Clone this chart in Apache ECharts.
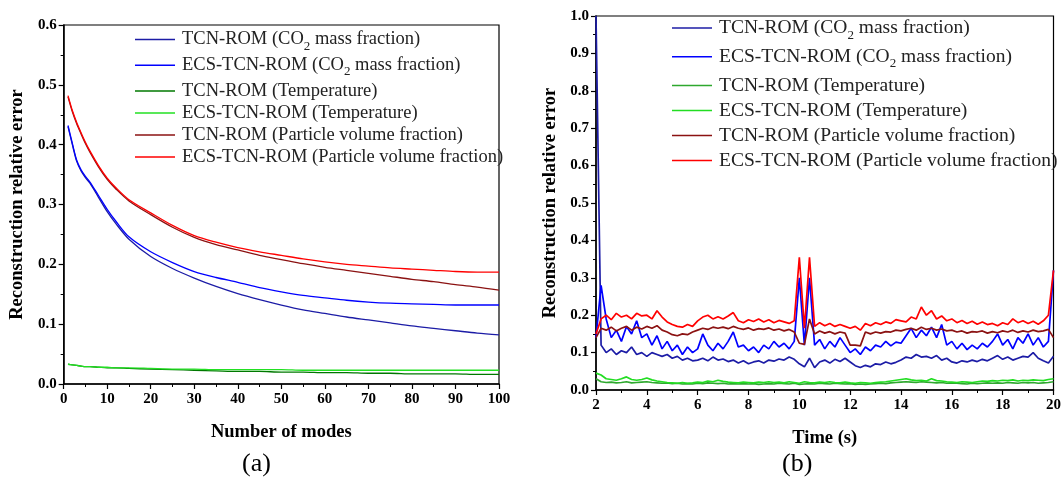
<!DOCTYPE html>
<html>
<head>
<meta charset="utf-8">
<script src="https://cdn.jsdelivr.net/npm/echarts@6.0.0/dist/echarts.min.js"></script>
<style>
  html, body { margin: 0; padding: 0; background: #fff; }
  #wrap { position: relative; width: 1064px; height: 492px; overflow: hidden; }
  #chartA { position: absolute; left: 0; top: 0; width: 532px; height: 492px; }
  #chartB { position: absolute; left: 532px; top: 0; width: 532px; height: 492px; }
</style>
</head>
<body>
<div id="wrap">
  <div id="chartA"></div>
  <div id="chartB"></div>
</div>
<script>
// ---- panel (a): error vs number of modes ----
const modes = [1, 2, 3, 4, 5, 6, 8, 10, 12, 15, 20, 25, 30, 35, 40, 45, 50, 55, 60, 65, 70, 75, 80, 85, 90, 95, 100];
const tcnCo2 = [0.43, 0.4, 0.372, 0.356, 0.345, 0.336, 0.312, 0.288, 0.268, 0.242, 0.213, 0.193, 0.177, 0.163, 0.151, 0.141, 0.132, 0.124, 0.118, 0.112, 0.107, 0.102, 0.097, 0.093, 0.089, 0.085, 0.082];
const ecsCo2 = [0.432, 0.402, 0.374, 0.358, 0.347, 0.338, 0.315, 0.292, 0.272, 0.246, 0.221, 0.203, 0.188, 0.178, 0.17, 0.161, 0.154, 0.148, 0.144, 0.14, 0.137, 0.135, 0.134, 0.133, 0.132, 0.132, 0.132];
const tcnTemp = [0.033, 0.032, 0.031, 0.03, 0.029, 0.029, 0.028, 0.027, 0.027, 0.026, 0.025, 0.024, 0.023, 0.022, 0.021, 0.021, 0.02, 0.02, 0.019, 0.019, 0.018, 0.018, 0.017, 0.017, 0.017, 0.016, 0.016];
const ecsTemp = [0.033, 0.032, 0.031, 0.03, 0.029, 0.029, 0.028, 0.028, 0.027, 0.027, 0.026, 0.025, 0.025, 0.024, 0.024, 0.024, 0.024, 0.023, 0.023, 0.023, 0.023, 0.023, 0.023, 0.023, 0.023, 0.023, 0.023];
const tcnPvf = [0.48, 0.455, 0.435, 0.418, 0.402, 0.388, 0.363, 0.342, 0.326, 0.306, 0.283, 0.262, 0.245, 0.233, 0.224, 0.215, 0.208, 0.201, 0.195, 0.19, 0.185, 0.18, 0.175, 0.171, 0.166, 0.162, 0.157];
const ecsPvf = [0.482, 0.457, 0.437, 0.42, 0.404, 0.39, 0.365, 0.344, 0.328, 0.308, 0.286, 0.265, 0.248, 0.237, 0.228, 0.221, 0.215, 0.209, 0.204, 0.2, 0.197, 0.194, 0.192, 0.19, 0.188, 0.187, 0.187];

// ---- panel (b): error vs time, sampled every 0.2 s from 2 s to 20 s ----
const times = [];
for (let i = 0; i <= 90; i++) times.push(+(2 + i * 0.2).toFixed(1));

const tcnCo2T = [
  1.0, 0.12, 0.1, 0.11, 0.095, 0.105, 0.1, 0.115, 0.095, 0.1,
  0.09, 0.1, 0.095, 0.09, 0.095, 0.085, 0.09, 0.08, 0.085, 0.078,
  0.08, 0.085, 0.078, 0.088, 0.08, 0.083, 0.076, 0.08, 0.072, 0.078,
  0.07, 0.075, 0.078, 0.072, 0.08, 0.077, 0.083, 0.08, 0.088, 0.082,
  0.07, 0.062, 0.085, 0.06, 0.075, 0.08, 0.072, 0.082, 0.076, 0.085,
  0.075, 0.065, 0.06, 0.066, 0.062, 0.07, 0.068, 0.075, 0.07, 0.074,
  0.08, 0.088, 0.085, 0.095, 0.088, 0.09, 0.085, 0.092, 0.08, 0.085,
  0.075, 0.072, 0.078, 0.075, 0.08, 0.076, 0.082, 0.078, 0.085, 0.092,
  0.082, 0.088, 0.08, 0.085, 0.09, 0.088, 0.1, 0.085, 0.078, 0.072,
  0.09
];
const ecsCo2T = [
  0.14, 0.28, 0.19, 0.14, 0.16, 0.13, 0.17, 0.15, 0.185, 0.14,
  0.15, 0.12, 0.145, 0.11, 0.13, 0.105, 0.12, 0.095, 0.115, 0.1,
  0.11, 0.15, 0.12, 0.105, 0.125, 0.11, 0.13, 0.155, 0.115, 0.12,
  0.105, 0.115, 0.1, 0.12, 0.11, 0.13, 0.115, 0.125, 0.11, 0.13,
  0.3, 0.12, 0.3, 0.12, 0.135, 0.11, 0.13, 0.115, 0.14, 0.12,
  0.1, 0.11, 0.095, 0.115, 0.105, 0.12, 0.115, 0.13, 0.118, 0.128,
  0.125, 0.145, 0.165, 0.14, 0.16, 0.145, 0.168, 0.14, 0.175, 0.12,
  0.13, 0.11, 0.125, 0.108, 0.12, 0.11, 0.125, 0.115, 0.13, 0.15,
  0.12, 0.135, 0.11, 0.14, 0.125, 0.15, 0.12, 0.14, 0.115, 0.13,
  0.32
];
const tcnTempT = [
  0.03, 0.022, 0.02, 0.021, 0.019, 0.02, 0.022, 0.019, 0.02, 0.021,
  0.022, 0.02, 0.019, 0.018, 0.019, 0.017, 0.018, 0.016, 0.017, 0.016,
  0.018, 0.017, 0.019, 0.018, 0.017, 0.018, 0.016, 0.017, 0.016, 0.017,
  0.016, 0.017, 0.015, 0.016, 0.017, 0.016, 0.018, 0.017, 0.016, 0.018,
  0.015, 0.016, 0.017, 0.016, 0.018, 0.017, 0.016, 0.018, 0.017, 0.016,
  0.017, 0.015, 0.016, 0.015, 0.016, 0.017, 0.018, 0.017, 0.019, 0.02,
  0.021, 0.022, 0.021, 0.02, 0.022, 0.021, 0.02, 0.019, 0.02, 0.018,
  0.019, 0.018, 0.017, 0.016, 0.018, 0.017, 0.018, 0.019, 0.018, 0.019,
  0.018, 0.02, 0.019, 0.018, 0.02, 0.019, 0.02, 0.018, 0.019, 0.02,
  0.022
];
const ecsTempT = [
  0.045, 0.04, 0.03, 0.028, 0.026, 0.03, 0.035, 0.028, 0.026, 0.028,
  0.032, 0.027, 0.024, 0.022, 0.02, 0.019, 0.018, 0.02, 0.018, 0.019,
  0.021, 0.02, 0.024, 0.022, 0.026, 0.023, 0.021, 0.02, 0.019, 0.021,
  0.02, 0.019, 0.021, 0.02, 0.022, 0.02, 0.021, 0.019, 0.022, 0.02,
  0.018, 0.022, 0.02, 0.019, 0.021, 0.02, 0.022, 0.02, 0.019, 0.021,
  0.019, 0.018, 0.02, 0.019, 0.018, 0.02, 0.021, 0.022, 0.024, 0.026,
  0.028, 0.03, 0.027, 0.025, 0.026, 0.024, 0.03, 0.025, 0.024, 0.022,
  0.021, 0.02, 0.022, 0.021, 0.02, 0.022, 0.024, 0.023, 0.025, 0.024,
  0.026, 0.025, 0.027, 0.024, 0.026, 0.025, 0.027, 0.026, 0.025, 0.028,
  0.03
];
const tcnPvfT = [
  0.14, 0.165, 0.16, 0.168, 0.158, 0.165, 0.17, 0.16, 0.168, 0.163,
  0.17, 0.165, 0.172, 0.16, 0.155, 0.148, 0.145, 0.15, 0.148, 0.155,
  0.16, 0.165, 0.162, 0.168, 0.165, 0.168, 0.164, 0.17, 0.165, 0.162,
  0.166, 0.16, 0.164, 0.162, 0.166, 0.16, 0.163, 0.158, 0.162, 0.155,
  0.125, 0.122, 0.19, 0.15, 0.158, 0.152, 0.156, 0.15, 0.155, 0.152,
  0.12, 0.12, 0.118, 0.155, 0.15, 0.155, 0.152, 0.156, 0.155, 0.16,
  0.158, 0.162, 0.165, 0.16, 0.168, 0.162, 0.165, 0.16, 0.163, 0.158,
  0.16, 0.155, 0.158, 0.152, 0.156, 0.155, 0.158, 0.152, 0.156, 0.153,
  0.158, 0.155, 0.16, 0.154, 0.158, 0.155, 0.16, 0.156, 0.158, 0.162,
  0.14
];
const ecsPvfT = [
  0.15, 0.19, 0.2, 0.188, 0.205, 0.195, 0.2, 0.19, 0.205, 0.198,
  0.2, 0.19, 0.212, 0.195, 0.182, 0.175, 0.17, 0.168, 0.175, 0.17,
  0.185, 0.195, 0.2, 0.19, 0.196, 0.19, 0.198, 0.207, 0.185, 0.18,
  0.188, 0.183, 0.19, 0.182, 0.188, 0.18, 0.186, 0.182, 0.178, 0.185,
  0.355, 0.165, 0.355, 0.17, 0.18, 0.172, 0.178, 0.17, 0.175, 0.17,
  0.165, 0.17, 0.16, 0.178, 0.172, 0.18, 0.175, 0.182, 0.178, 0.188,
  0.185, 0.182, 0.195, 0.19, 0.222, 0.2, 0.212, 0.19, 0.198, 0.185,
  0.19, 0.18, 0.186, 0.178, 0.184, 0.176, 0.182, 0.175, 0.178, 0.172,
  0.18, 0.175, 0.19, 0.18, 0.185, 0.178, 0.184, 0.176, 0.185, 0.2,
  0.32
];

const seriesNames = [
  "TCN-ROM (CO2 mass fraction)",
  "ECS-TCN-ROM (CO2 mass fraction)",
  "TCN-ROM (Temperature)",
  "ECS-TCN-ROM (Temperature)",
  "TCN-ROM (Particle volume fraction)",
  "ECS-TCN-ROM (Particle volume fraction)",
];
const colorsA = ["#1c1ca6", "#0000ff", "#007800", "#22e022", "#8b1212", "#ff0000"];
const colorsB = ["#1c1ca6", "#0000ff", "#2ea82e", "#22dd22", "#8b1212", "#ff0000"];

const serif = "'Liberation Serif', 'Times New Roman', serif";

function zip(xs, ys) {
  return ys.map((y, i) => [xs[i], y]);
}

function legendFor(left, top, fontSize, gap) {
  return {
    orient: "vertical",
    left: left,
    top: top,
    icon: "rect",
    itemWidth: 40,
    itemHeight: 1.6,
    itemGap: gap,
    data: seriesNames,
    formatter: (name) => name.replace("CO2", "CO{sub|2}"),
    textStyle: {
      fontFamily: serif,
      fontSize: fontSize,
      color: "#222",
      padding: [0, 0, 0, 2],
      rich: {
        sub: { fontFamily: serif, fontSize: Math.round(fontSize * 0.68), color: "#222", verticalAlign: "bottom", lineHeight: fontSize + 8 },
      },
    },
  };
}

function valueAxis(opts) {
  return Object.assign(
    {
      type: "value",
      nameLocation: "middle",
      nameTextStyle: { fontFamily: serif, fontWeight: "bold", fontSize: 18.5, color: "#000" },
      axisLine: { show: true, onZero: false, lineStyle: { color: "#000", width: 1.5 } },
      axisTick: { show: true, inside: false, length: 5, lineStyle: { color: "#000", width: 1.2 } },
      minorTick: { show: true, splitNumber: 2, length: 3, lineStyle: { color: "#000", width: 1 } },
      splitLine: { show: false },
      axisLabel: { fontFamily: serif, fontWeight: "bold", fontSize: 15, color: "#000", margin: 8 },
    },
    opts
  );
}

const yLabel = { fontFamily: serif, fontWeight: "bold", fontSize: 15, color: "#000", margin: 7, formatter: (v) => v.toFixed(1) };

function lineSeries(name, data, color, width, smooth) {
  return {
    type: "line",
    name: name,
    data: data,
    symbol: "none",
    smooth: smooth,
    lineStyle: { color: color, width: width },
    itemStyle: { color: color },
    animation: false,
  };
}

const chartA = echarts.init(document.getElementById("chartA"));
chartA.setOption({
  animation: false,
  grid: { left: 61, top: 25, width: 438, height: 359, show: true, borderColor: "#000", borderWidth: 1.2 },
  legend: legendFor(130, 25, 18.5, 3),
  xAxis: valueAxis({
    min: 0, max: 100, interval: 10,
    name: "Number of modes", nameGap: 39,
  }),
  yAxis: valueAxis({
    min: 0, max: 0.6, interval: 0.1,
    name: "Reconstruction relative error", nameGap: 34,
    axisLabel: yLabel,
  }),
  graphic: [
    { type: "text", left: 242, top: 451, style: { text: "(a)", font: "26px " + serif, fill: "#000" } },
  ],
  series: [
    lineSeries(seriesNames[0], zip(modes, tcnCo2), colorsA[0], 1.3, 0.3),
    lineSeries(seriesNames[1], zip(modes, ecsCo2), colorsA[1], 1.3, 0.3),
    lineSeries(seriesNames[2], zip(modes, tcnTemp), colorsA[2], 1.3, 0.3),
    lineSeries(seriesNames[3], zip(modes, ecsTemp), colorsA[3], 1.3, 0.3),
    lineSeries(seriesNames[4], zip(modes, tcnPvf), colorsA[4], 1.3, 0.3),
    lineSeries(seriesNames[5], zip(modes, ecsPvf), colorsA[5], 1.3, 0.3),
  ],
});

const chartB = echarts.init(document.getElementById("chartB"));
chartB.setOption({
  animation: false,
  grid: { left: 64, top: 16, width: 465, height: 374, show: true, borderColor: "#000", borderWidth: 1.2 },
  legend: legendFor(135, 13, 19.5, 5),
  xAxis: valueAxis({
    min: 2, max: 20, interval: 2,
    name: "Time (s)", nameGap: 39,
  }),
  yAxis: valueAxis({
    min: 0, max: 1, interval: 0.1,
    name: "Reconstruction relative error", nameGap: 36,
    axisLabel: yLabel,
  }),
  graphic: [
    { type: "text", left: 250, top: 451, style: { text: "(b)", font: "26px " + serif, fill: "#000" } },
  ],
  series: [
    lineSeries(seriesNames[0], zip(times, tcnCo2T), colorsB[0], 1.7, false),
    lineSeries(seriesNames[1], zip(times, ecsCo2T), colorsB[1], 1.7, false),
    lineSeries(seriesNames[2], zip(times, tcnTempT), colorsB[2], 1.7, false),
    lineSeries(seriesNames[3], zip(times, ecsTempT), colorsB[3], 1.7, false),
    lineSeries(seriesNames[4], zip(times, tcnPvfT), colorsB[4], 1.7, false),
    lineSeries(seriesNames[5], zip(times, ecsPvfT), colorsB[5], 1.7, false),
  ],
});
</script>
</body>
</html>
